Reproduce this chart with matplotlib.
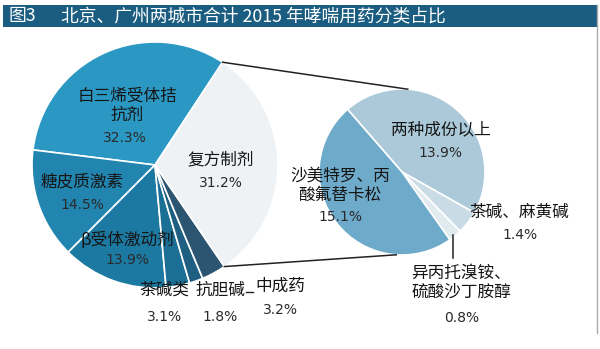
import numpy as np
import matplotlib
matplotlib.use("Agg")
import matplotlib.pyplot as plt

plt.rcParams['font.family'] = ['Noto Sans CJK SC', 'DejaVu Sans']

# ---- data ----
main_labels = ["白三烯受体拮\n抗剂", "糖皮质激素", "β受体激动剂", "茶碱类", "抗胆碱", "中成药", "复方制剂"]
main_values = [32.3, 14.5, 13.9, 3.1, 1.8, 3.2, 31.2]
sub_labels = ["两种成份以上", "茶碱、麻黄碱", "异丙托溴铵、\n硫酸沙丁胺醇", "沙美特罗、丙\n酸氟替卡松"]
sub_values = [13.9, 1.4, 0.8, 15.1]
title_prefix = "图3"
title_text = "北京、广州两城市合计 2015 年哮喘用药分类占比"

# ---- style / layout ----
W, H = 600, 349
main_colors = ["#2b98c4", "#2185b0", "#1c79a1", "#1b6f95", "#1f5f82", "#2b5570", "#eef2f5"]
sub_colors = ["#abc9d9", "#c9dce6", "#e1eaef", "#6eaac9"]
main_center_px = (155, 165)
main_r = 123
sub_center_px = (402, 172)
sub_r = 83

def Y(y):
    return H - y

fig = plt.figure(figsize=(W / 100, H / 100), dpi=100)
ax = fig.add_axes([0, 0, 1, 1])

# main pie: "复方制剂" (last) ends at startangle -> centered on the right
other_frac = main_values[-1] / sum(main_values)
start_main = 360 * other_frac / 2 + 0.5
ax.pie(main_values, colors=main_colors, startangle=start_main, counterclock=True,
       center=(main_center_px[0], Y(main_center_px[1])), radius=main_r,
       wedgeprops=dict(edgecolor="white", linewidth=1.2), frame=True)

ax.pie(sub_values, colors=sub_colors, startangle=131, counterclock=False,
       center=(sub_center_px[0], Y(sub_center_px[1])), radius=sub_r,
       wedgeprops=dict(edgecolor="white", linewidth=1.2), frame=True)

# connector lines
a1 = np.deg2rad(start_main)
a2 = np.deg2rad(start_main - 360 * other_frac)
cx, cy = main_center_px[0], Y(main_center_px[1])
sx, sy = sub_center_px[0], Y(sub_center_px[1])
b1, b2 = np.deg2rad(86), np.deg2rad(-94)
ax.plot([cx + main_r * np.cos(a1), sx + sub_r * np.cos(b1)],
        [cy + main_r * np.sin(a1), sy + sub_r * np.sin(b1)], color="#222222", lw=1.1)
ax.plot([cx + main_r * np.cos(a2), sx + sub_r * np.cos(b2)],
        [cy + main_r * np.sin(a2), sy + sub_r * np.sin(b2)], color="#222222", lw=1.1)

# labels (name position, percent position) in pixel coords
main_pos = [((127, 106), (125, 138)),
            ((82, 182), (82, 205)),
            ((127, 240), (127, 260)),
            ((164, 290), (164, 317)),
            ((220, 290), (220, 317)),
            ((280, 286), (280, 310)),
            ((221, 160), (221, 183))]
sub_pos = [((441, 130), (440, 153)),
           ((519, 212), (520, 235)),
           ((461, 283), (462, 318)),
           ((340, 186), (340, 217))]

lab_kw = dict(ha="center", va="center", fontsize=12, color="#151515", linespacing=1.15)
pct_kw = dict(ha="center", va="center", fontsize=10, color="#2a2a2a", family="DejaVu Sans")
for lab, v, (p1, p2) in zip(main_labels, main_values, main_pos):
    ax.text(p1[0], Y(p1[1]), lab, **lab_kw)
    ax.text(p2[0], Y(p2[1]), f"{v:.1f}%", **pct_kw)
for lab, v, (p1, p2) in zip(sub_labels, sub_values, sub_pos):
    ax.text(p1[0], Y(p1[1]), lab, **lab_kw)
    ax.text(p2[0], Y(p2[1]), f"{v:.1f}%", **pct_kw)

# leader lines
ax.plot([453, 453], [Y(235), Y(258)], color="#222222", lw=1.1)
ax.plot([246, 253], [Y(292), Y(292)], color="#222222", lw=1.0)

# title bar
ax.add_patch(plt.Rectangle((3, Y(27)), 594, 22, facecolor="#1b5d80", edgecolor="none"))
ax.text(9, Y(16), title_prefix, ha="left", va="center", fontsize=12.8, color="white")
ax.text(61, Y(16), title_text, ha="left", va="center", fontsize=12.8, color="white")
# right frame line
ax.plot([597, 597], [Y(5), Y(333)], color="#aaaaaa", lw=1.0)

ax.set_xlim(0, W)
ax.set_ylim(0, H)
ax.axis("off")
fig.savefig("out.png", dpi=100)
